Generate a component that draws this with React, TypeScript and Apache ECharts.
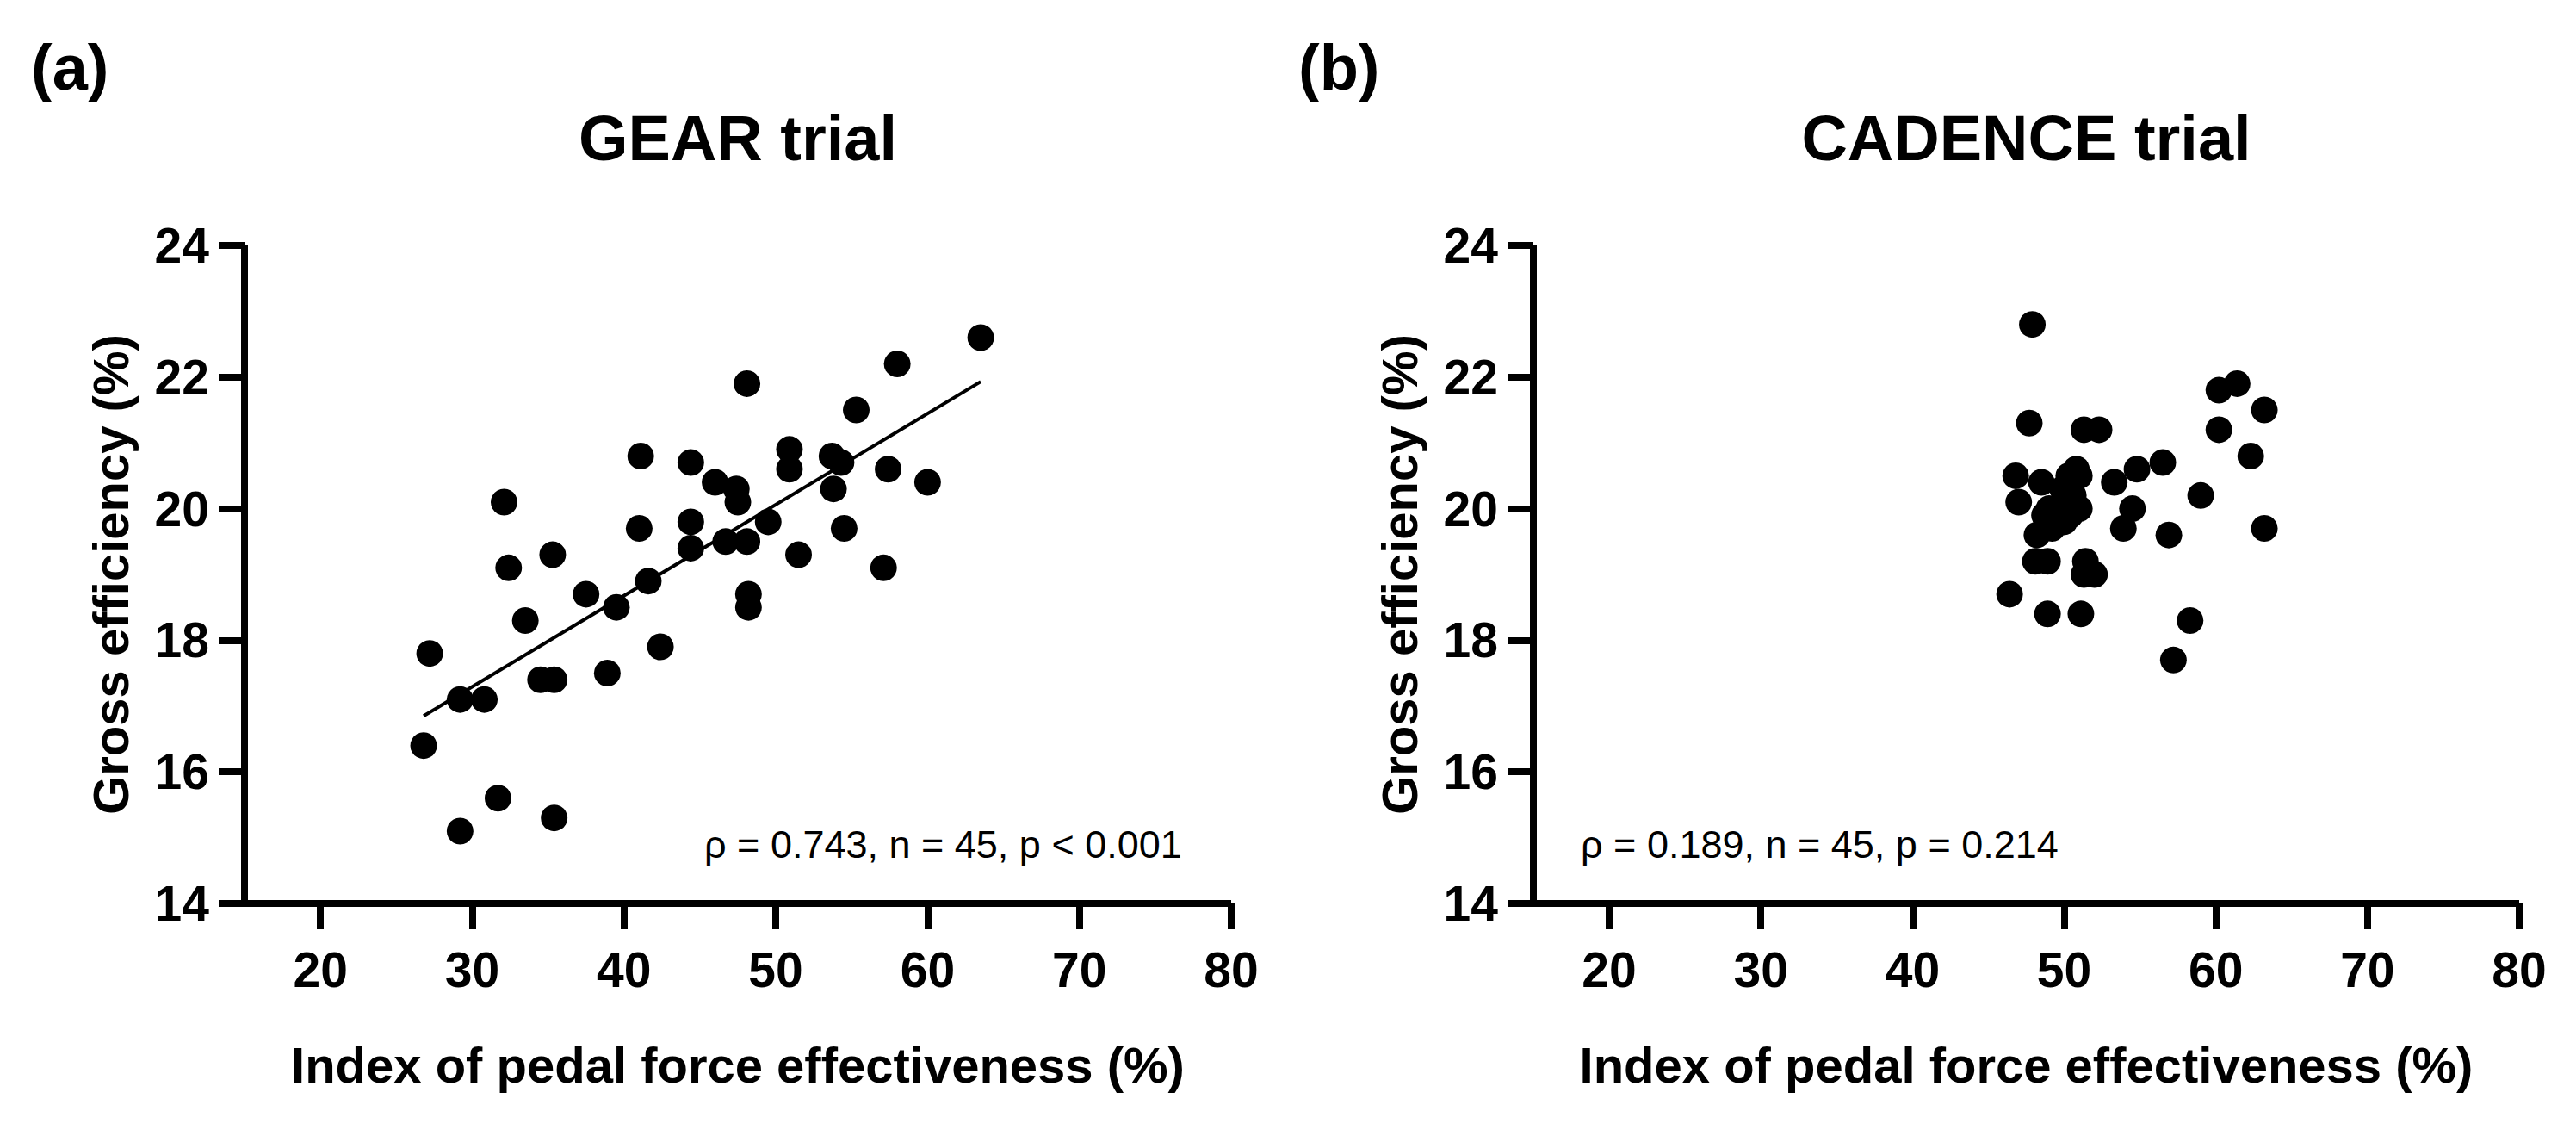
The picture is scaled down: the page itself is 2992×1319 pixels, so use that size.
import React, { useEffect, useRef } from "react";
import * as echarts from "echarts";

const FONT = '"Liberation Sans", Arial, Helvetica, sans-serif';

// GEAR trial: index of pedal force effectiveness (%) vs gross efficiency (%)
const gearX = [26.8, 27.2, 29.2, 29.2, 30.8, 31.7, 32.1, 32.4, 33.5, 34.5, 35.4, 35.3, 35.4, 37.5, 38.9, 39.5, 41.0, 41.1, 41.6, 42.4, 44.4, 44.4, 44.4, 46.0, 46.7, 47.4, 47.5, 48.1, 48.1, 48.2, 48.2, 49.5, 50.9, 50.9, 51.5, 53.7, 53.8, 54.3, 54.5, 55.3, 57.4, 57.1, 58.0, 60.0, 63.5];
const gearY = [16.4, 17.8, 15.1, 17.1, 17.1, 15.6, 20.1, 19.1, 18.3, 17.4, 17.4, 19.3, 15.3, 18.7, 17.5, 18.5, 19.7, 20.8, 18.9, 17.9, 20.7, 19.8, 19.4, 20.4, 19.5, 20.3, 20.1, 21.9, 19.5, 18.7, 18.5, 19.8, 20.9, 20.6, 19.3, 20.8, 20.3, 20.7, 19.7, 21.5, 20.6, 19.1, 22.2, 20.4, 22.6];
// regression line end points (GEAR)
const gearFitX = [26.8, 63.5];
const gearFitY = [16.85, 21.93];

// CADENCE trial
const cadX = [47.9, 47.7, 46.8, 47.0, 48.5, 46.4, 48.1, 48.9, 48.9, 48.2, 51.3, 52.3, 51.4, 51.3, 52.0, 51.1, 53.3, 53.9, 54.5, 54.8, 56.5, 56.9, 57.2, 58.3, 59.0, 60.2, 61.4, 60.2, 62.3, 63.2, 63.2, 50.8, 51.0, 50.3, 50.8, 50.4, 48.7, 49.6, 49.9, 50.2, 49.2, 50.6, 49.0, 51.0, 50.0];
const cadY = [22.8, 21.3, 20.5, 20.1, 20.4, 18.7, 19.2, 19.2, 18.4, 19.6, 21.2, 21.2, 19.2, 19.0, 19.0, 18.4, 20.4, 19.7, 20.0, 20.6, 20.7, 19.6, 17.7, 18.3, 20.2, 21.8, 21.9, 21.2, 20.8, 21.5, 19.7, 20.6, 20.5, 20.5, 20.0, 19.9, 19.9, 20.0, 20.3, 20.1, 19.7, 20.2, 20.0, 20.0, 19.8];

const xTicks = [20, 30, 40, 50, 60, 70, 80];
const xMin = 15;
const xMax = 80;
const yMin = 14;
const yMax = 24;
const yStep = 2;

const panelLabels = ["(a)", "(b)"];
const panelTitles = ["GEAR trial", "CADENCE trial"];
const statTexts = ["ρ = 0.743, n = 45, p < 0.001", "ρ = 0.189, n = 45, p = 0.214"];
const xTitle = "Index of pedal force effectiveness (%)";
const yTitle = "Gross efficiency (%)";

const zip = (xs: number[], ys: number[]) => xs.map((x, i) => [x, ys[i]]);

export default function App() {
  const ref = useRef<HTMLDivElement>(null);
  useEffect(() => {
    document.body.style.margin = "0";
    if (!ref.current) return;
    const chart = echarts.init(ref.current, undefined, { renderer: "svg" });
    const grids = [
      { left: 284, top: 285, width: 1146, height: 764 },
      { left: 1781, top: 285, width: 1145, height: 764 },
    ];
    const axisLine = { show: true, onZero: false, lineStyle: { color: "#000", width: 8, cap: "butt" } };
    const tick = { show: true, length: 30, inside: false, lineStyle: { color: "#000", width: 8 } };
    const labelStyle = { fontSize: 57, fontWeight: "bold", color: "#000", fontFamily: FONT };
    const nameStyle = { fontSize: 58, fontWeight: "bold", color: "#000", fontFamily: FONT };
    const xAxis = grids.map((_, i) => ({
      gridIndex: i,
      type: "value",
      min: xMin,
      max: xMax,
      axisLine,
      axisTick: { ...tick, customValues: xTicks },
      axisLabel: { ...labelStyle, margin: 48, customValues: xTicks },
      splitLine: { show: false },
      name: xTitle,
      nameLocation: "middle",
      nameGap: 158,
      nameTextStyle: nameStyle,
    }));
    const yAxis = grids.map((_, i) => ({
      gridIndex: i,
      type: "value",
      min: yMin,
      max: yMax,
      interval: yStep,
      axisLine,
      axisTick: tick,
      axisLabel: { ...labelStyle, margin: 41 },
      splitLine: { show: false },
      name: yTitle,
      nameLocation: "middle",
      nameGap: 127,
      nameTextStyle: nameStyle,
    }));
    const scatterStyle = { color: "#000", opacity: 1 };
    const series: any[] = [
      {
        type: "line",
        xAxisIndex: 0,
        yAxisIndex: 0,
        data: zip(gearFitX, gearFitY),
        symbol: "none",
        lineStyle: { color: "#000", width: 4 },
        z: 3,
      },
      {
        type: "scatter",
        xAxisIndex: 0,
        yAxisIndex: 0,
        data: zip(gearX, gearY),
        symbolSize: 31,
        itemStyle: scatterStyle,
        z: 2,
      },
      {
        type: "scatter",
        xAxisIndex: 1,
        yAxisIndex: 1,
        data: zip(cadX, cadY),
        symbolSize: 31,
        itemStyle: scatterStyle,
        z: 2,
      },
    ];
    const centers = grids.map((g) => g.left + g.width / 2);
    const labelX = [36, 1508];
    const statX = [818, 1836];
    const graphic: any[] = [];
    grids.forEach((_, i) => {
      graphic.push({
        type: "text",
        x: labelX[i],
        y: 78,
        style: {
          text: panelLabels[i],
          font: `bold 74px ${FONT}`,
          fill: "#000",
          align: "left",
          verticalAlign: "middle",
          textAlign: "left",
          textVerticalAlign: "middle",
        },
      });
      graphic.push({
        type: "text",
        x: centers[i],
        y: 160,
        style: {
          text: panelTitles[i],
          font: `bold 74px ${FONT}`,
          fill: "#000",
          align: "center",
          verticalAlign: "middle",
          textAlign: "center",
          textVerticalAlign: "middle",
        },
      });
      graphic.push({
        type: "text",
        x: statX[i],
        y: 980,
        style: {
          text: statTexts[i],
          font: `45px ${FONT}`,
          fill: "#000",
          align: "left",
          verticalAlign: "middle",
          textAlign: "left",
          textVerticalAlign: "middle",
        },
      });
    });
    chart.setOption({
      animation: false,
      backgroundColor: "#fff",
      grid: grids,
      xAxis,
      yAxis,
      series,
      graphic,
    });
    return () => chart.dispose();
  }, []);
  return <div ref={ref} style={{ width: 2992, height: 1319 }} />;
}
